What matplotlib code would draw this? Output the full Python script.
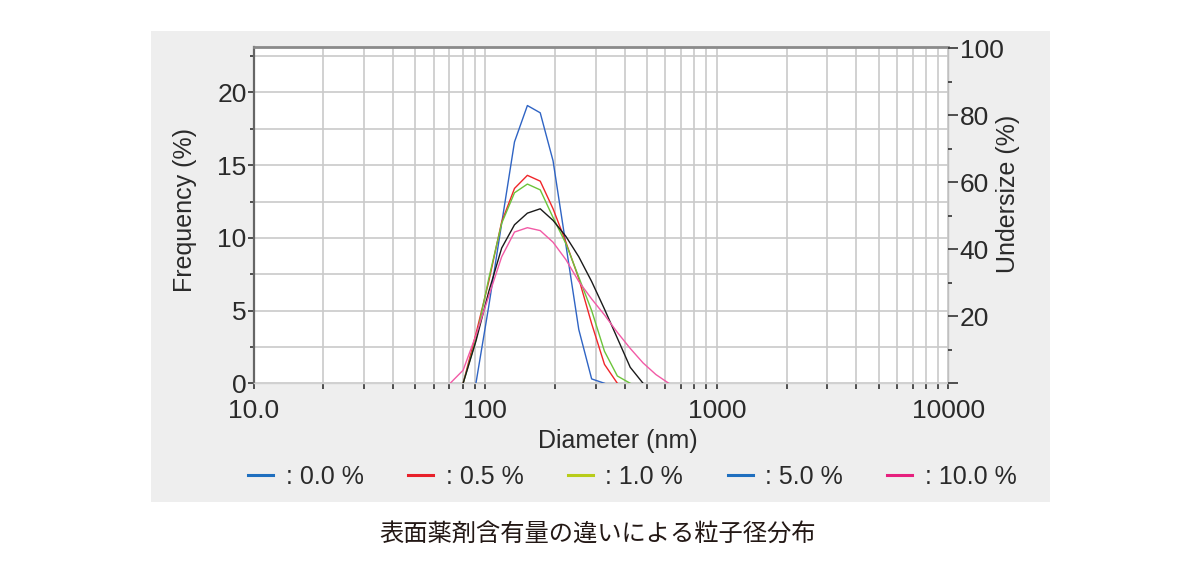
import numpy as np
import matplotlib
matplotlib.use('Agg')
import matplotlib.pyplot as plt
from matplotlib.patches import Rectangle
from matplotlib.lines import Line2D
from matplotlib.ticker import LogLocator, FixedLocator, NullFormatter

plt.rcParams['font.family'] = ['Liberation Sans', 'DejaVu Sans']

# particle size distribution (frequency %)
nan = np.nan
diameter = [70.6, 80.3, 91.2, 103.6, 117.8, 133.8, 152.1, 172.8, 196.3,
            223.1, 253.5, 288.1, 327.3, 372.0, 422.7, 480.3, 545.8, 620.2]
freq_blue = [nan, nan, 0.0, 5.3, 11.0, 16.6, 19.1, 18.6, 15.3,
             9.5, 3.7, 0.3, 0.0, nan, nan, nan, nan, nan]
freq_red = [nan, 0.0, 3.4, 7.0, 11.1, 13.4, 14.3, 13.9, 12.0,
            9.7, 7.2, 4.1, 1.3, 0.0, nan, nan, nan, nan]
freq_green = [nan, 0.0, 3.0, 7.2, 11.0, 13.1, 13.7, 13.3, 11.4,
              9.6, 7.3, 5.0, 2.2, 0.5, 0.0, nan, nan, nan]
freq_black = [nan, 0.0, 2.9, 6.3, 9.3, 10.9, 11.7, 12.0, 11.2,
              10.1, 8.7, 7.0, 5.1, 3.1, 1.1, 0.0, nan, nan]
freq_pink = [0.0, 0.9, 3.3, 6.0, 8.7, 10.4, 10.7, 10.5, 9.7,
             8.5, 7.0, 5.8, 4.7, 3.5, 2.4, 1.4, 0.6, 0.0]

series = [freq_blue, freq_red, freq_green, freq_black, freq_pink]
line_colors = ['#2f64c4', '#f0262a', '#6cc43a', '#1a1a1a', '#f25aa6']

legend_labels = [': 0.0 %', ': 0.5 %', ': 1.0 %', ': 5.0 %', ': 10.0 %']
legend_colors = ['#1f6fbf', '#e8202a', '#b8cc1a', '#1f6fbf', '#e6207e']

caption = '表面薬剤含有量の違いによる粒子径分布'

fig = plt.figure(figsize=(12, 5.62), dpi=100)
fig.patches.append(Rectangle((0.1255, 0.107), 0.7495, 0.837, transform=fig.transFigure,
                             facecolor='#eeeeee', edgecolor='none', zorder=-10))

ax = fig.add_axes([0.2113, 0.318, 0.5791, 0.599])
ax.set_xscale('log')
ax.set_xlim(10, 10000)
ax.set_ylim(0, 23.15)

for vals, c in zip(series, line_colors):
    ax.plot(diameter, vals, color=c, lw=1.0, zorder=3)

grid_c = '#cacaca'
ax.xaxis.set_major_locator(LogLocator(base=10, numticks=10))
ax.xaxis.set_minor_locator(LogLocator(base=10, subs=np.arange(2, 10), numticks=50))
ax.xaxis.set_minor_formatter(NullFormatter())
ax.set_xticks([10, 100, 1000, 10000])
ax.set_xticklabels(['10.0', '100', '1000', '10000'])
ax.set_yticks([0, 5, 10, 15, 20])
ax.yaxis.set_minor_locator(FixedLocator([2.5, 7.5, 12.5, 17.5, 22.5]))
ax.grid(True, which='both', color=grid_c, lw=1.2, zorder=0)
ax.set_axisbelow(True)

ax.tick_params(axis='x', which='both', direction='out', length=4, width=1.2,
               color='#333333', labelsize=19, labelcolor='#2a2a2a', pad=7)
ax.tick_params(axis='y', which='both', direction='out', length=4, width=1.2,
               color='#333333', labelsize=19, labelcolor='#2a2a2a', pad=1)
ax.tick_params(axis='y', which='minor', length=3)

ax.spines['left'].set_color('#666666')
ax.spines['left'].set_linewidth(1.6)
ax.spines['top'].set_color('#8a8a8a')
ax.spines['top'].set_linewidth(2.0)
ax.spines['bottom'].set_color('#d0d0d0')
ax.spines['bottom'].set_linewidth(1.0)
ax.spines['right'].set_color('#c0c0c0')
ax.spines['right'].set_linewidth(1.0)

ax.set_xlabel('Diameter (nm)', fontsize=18, color='#2a2a2a')
ax.xaxis.set_label_coords(0.524, -0.135)
ax.set_ylabel('Frequency (%)', fontsize=18, color='#2a2a2a')
ax.yaxis.set_label_coords(-0.082, 0.515)

# undersize axis on the right
ax2 = ax.twinx()
ax2.set_ylim(0, 100.5)
ax2.set_yticks([0, 20, 40, 60, 80, 100])
ax2.set_yticklabels(['', '20', '40', '60', '80', '100'])
ax2.yaxis.set_minor_locator(FixedLocator([10, 30, 50, 70, 90]))
ax2.tick_params(axis='y', which='both', direction='out', length=7, width=1.2,
                color='#333333', labelsize=19, labelcolor='#2a2a2a', pad=1)
ax2.tick_params(axis='y', which='minor', length=3)
for s in ax2.spines.values():
    s.set_visible(False)
ax2.set_ylabel('Undersize (%)', fontsize=18, color='#2a2a2a')
ax2.yaxis.set_label_coords(1.068, 0.562)

handles = [Line2D([], [], color=c, lw=2.2) for c in legend_colors]
fig.legend(handles, legend_labels, loc='center', bbox_to_anchor=(0.527, 0.152),
           ncol=5, frameon=False, fontsize=18, handlelength=1.0, handletextpad=0.5,
           columnspacing=1.78, labelcolor='#2a2a2a')

fig.text(0.498, 0.05, caption, ha='center', va='center', fontsize=17.5,
         color='#231815', family=['Noto Sans CJK JP', 'DejaVu Sans'])

fig.savefig('out.png', dpi=100, facecolor='white')
